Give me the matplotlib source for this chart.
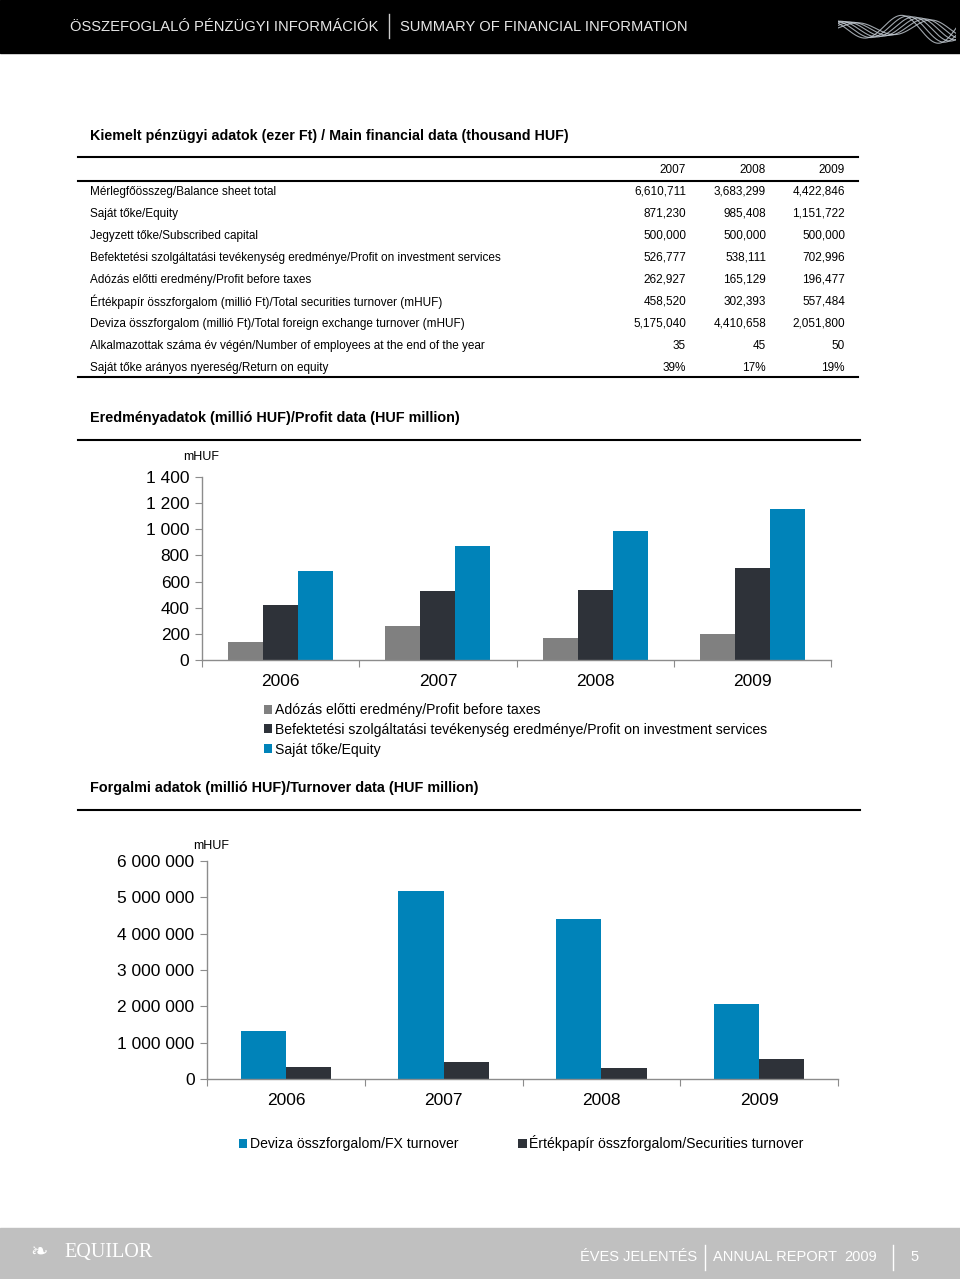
import numpy as np
import matplotlib
matplotlib.use("Agg")
import matplotlib.pyplot as plt
from matplotlib.patches import Rectangle
from matplotlib.lines import Line2D

plt.rcParams['font.family'] = ['Liberation Sans', 'DejaVu Sans']

# Table data (thousand HUF)
table_years = ["2007", "2008", "2009"]
row_labels = [
    "Mérlegfőösszeg/Balance sheet total",
    "Saját tőke/Equity",
    "Jegyzett tőke/Subscribed capital",
    "Befektetési szolgáltatási tevékenység eredménye/Profit on investment services",
    "Adózás előtti eredmény/Profit before taxes",
    "Értékpapír összforgalom (millió Ft)/Total securities turnover (mHUF)",
    "Deviza összforgalom (millió Ft)/Total foreign exchange turnover (mHUF)",
    "Alkalmazottak száma év végén/Number of employees at the end of the year",
    "Saját tőke arányos nyereség/Return on equity",
]
col_2007 = ["6,610,711", "871,230", "500,000", "526,777", "262,927", "458,520", "5,175,040", "35", "39%"]
col_2008 = ["3,683,299", "985,408", "500,000", "538,111", "165,129", "302,393", "4,410,658", "45", "17%"]
col_2009 = ["4,422,846", "1,151,722", "500,000", "702,996", "196,477", "557,484", "2,051,800", "50", "19%"]

# Profit chart (mHUF)
chart_years = ["2006", "2007", "2008", "2009"]
profit_before_tax = [140, 263, 165, 196]
profit_investment = [419, 527, 538, 703]
equity = [682, 871, 985, 1152]
profit_labels = ["Adózás előtti eredmény/Profit before taxes",
                 "Befektetési szolgáltatási tevékenység eredménye/Profit on investment services",
                 "Saját tőke/Equity"]

# Turnover chart (mHUF)
fx_turnover = [1320000, 5175040, 4410658, 2051800]
sec_turnover = [322000, 458520, 302393, 557484]
turnover_labels = ["Deviza összforgalom/FX turnover", "Értékpapír összforgalom/Securities turnover"]

GRAY = "#808080"
DARK = "#2e3239"
BLUE = "#0083b9"

W, H = 960, 1279
fig = plt.figure(figsize=(W / 100, H / 100), dpi=100)


def fx(x):
    return x / W


def fy(y):
    return 1 - y / H


def hline(y, x0, x1, lw=1.5, color="black"):
    fig.add_artist(Line2D([fx(x0), fx(x1)], [fy(y), fy(y)], lw=lw, color=color,
                          transform=fig.transFigure))


def vline(x, y0, y1, lw=1.0, color="white"):
    fig.add_artist(Line2D([fx(x), fx(x)], [fy(y0), fy(y1)], lw=lw, color=color,
                          transform=fig.transFigure))


# Header bar
fig.add_artist(Rectangle((0, fy(53)), 1, 53 / H, color="black", transform=fig.transFigure,
                         zorder=-1))
fig.text(fx(70), fy(27), "ÖSSZEFOGLALÓ PÉNZÜGYI INFORMÁCIÓK", color="#e6e6e6",
         fontsize=10.6, va="center")
vline(389, 14, 38, lw=1, color="#cccccc")
fig.text(fx(400), fy(27), "SUMMARY OF FINANCIAL INFORMATION", color="#e6e6e6",
         fontsize=10.6, va="center")

# decorative wave in header
wax = fig.add_axes([fx(838), fy(46), 118 / W, 36 / H])
wax.set_zorder(5)
wax.set_axis_off()
t = np.linspace(0, 1, 200)
for k, ph in enumerate(np.linspace(0, 2.5, 6)):
    wax.plot(t, np.sin(2 * np.pi * (1.6 * t) + ph) * (0.5 + 0.5 * t) * (0.6 + 0.1 * k),
             color="#c8d0d8", lw=0.8, alpha=0.8)
wax.set_ylim(-1.2, 1.2)
wax.set_xlim(0, 1)

# Table
fig.text(fx(90), fy(136), "Kiemelt pénzügyi adatok (ezer Ft) / Main financial data (thousand HUF)",
         fontsize=10.3, weight="bold", va="center")
hline(157, 78, 858)
hline(181, 78, 858)
hline(377, 78, 858)

col_x = [686, 766, 845]
for xx, yr in zip(col_x, table_years):
    fig.text(fx(xx), fy(170), yr, fontsize=8.5, ha="right", va="center")
for i, lab in enumerate(row_labels):
    yy = 192 + 22 * i
    fig.text(fx(90), fy(yy), lab, fontsize=8.5, va="center")
    for xx, col in zip(col_x, [col_2007, col_2008, col_2009]):
        fig.text(fx(xx), fy(yy), col[i], fontsize=8.5, ha="right", va="center")

# Section titles
fig.text(fx(90), fy(418), "Eredményadatok (millió HUF)/Profit data (HUF million)",
         fontsize=10.4, weight="bold", va="center")
hline(440, 78, 860)
fig.text(fx(90), fy(788), "Forgalmi adatok (millió HUF)/Turnover data (HUF million)",
         fontsize=10.4, weight="bold", va="center")
hline(810, 78, 860)


def style_axis(ax):
    for s in ["top", "right"]:
        ax.spines[s].set_visible(False)
    for s in ["left", "bottom"]:
        ax.spines[s].set_color("#8c8c8c")
        ax.spines[s].set_linewidth(1)
    ax.tick_params(axis="y", length=5, color="#8c8c8c", labelsize=12.5, pad=4)
    ax.tick_params(axis="x", which="major", length=5, color="#8c8c8c", labelbottom=False)
    ax.tick_params(axis="x", which="minor", length=0, labelsize=12.5, pad=10)
    ax.set_xlim(0, len(chart_years))
    ax.set_xticks(np.arange(len(chart_years) + 1))
    ax.set_xticks(np.arange(len(chart_years)) + 0.5, minor=True)
    ax.set_xticklabels(chart_years, minor=True)


def space_fmt(v):
    return f"{int(v):,}".replace(",", " ")


# Chart 1: profit data
ax1 = fig.add_axes([fx(202), fy(660), (831 - 202) / W, (660 - 477) / H])
x = np.arange(len(chart_years)) + 0.5
w1 = 35 / 157
b1 = ax1.bar(x - w1, profit_before_tax, w1, color=GRAY, label=profit_labels[0])
b2 = ax1.bar(x, profit_investment, w1, color=DARK, label=profit_labels[1])
b3 = ax1.bar(x + w1, equity, w1, color=BLUE, label=profit_labels[2])
ax1.set_ylim(0, 1400)
yt = np.arange(0, 1401, 200)
ax1.set_yticks(yt)
ax1.set_yticklabels([space_fmt(v) for v in yt])
style_axis(ax1)
fig.text(fx(183), fy(457), "mHUF", fontsize=9, va="center")
fig.legend(handles=[b1, b2, b3], loc="upper left", bbox_to_anchor=(fx(264), fy(703)),
           bbox_transform=fig.transFigure, frameon=False, fontsize=10.1,
           handlelength=0.6, handleheight=0.6, handletextpad=0.15, labelspacing=0.42,
           borderpad=0, borderaxespad=0)

# Chart 2: turnover data
ax2 = fig.add_axes([fx(207), fy(1079), (838 - 207) / W, (1079 - 861) / H])
w2 = 45 / 157
c1 = ax2.bar(x - w2 / 2, fx_turnover, w2, color=BLUE, label=turnover_labels[0])
c2 = ax2.bar(x + w2 / 2, sec_turnover, w2, color=DARK, label=turnover_labels[1])
ax2.set_ylim(0, 6000000)
yt2 = np.arange(0, 6000001, 1000000)
ax2.set_yticks(yt2)
ax2.set_yticklabels([space_fmt(v) for v in yt2])
style_axis(ax2)
fig.text(fx(193), fy(846), "mHUF", fontsize=9, va="center")
fig.legend(handles=[c1, c2], loc="upper left", bbox_to_anchor=(fx(239), fy(1135)),
           bbox_transform=fig.transFigure, frameon=False, fontsize=10.1, ncol=2,
           handlelength=0.6, handleheight=0.6, handletextpad=0.15, columnspacing=4.3,
           borderpad=0, borderaxespad=0)

# Footer
fig.add_artist(Rectangle((0, 0), 1, (H - 1228) / H, color="#c0c0c0", transform=fig.transFigure,
                         zorder=-1))
fig.text(fx(64), fy(1253), "EQUILOR", color="white", fontsize=14.5, family="Liberation Serif",
         va="center")
fig.text(fx(30), fy(1253), "❧", color="white", fontsize=15, family="DejaVu Sans", va="center")
fig.text(fx(697), fy(1257), "ÉVES JELENTÉS", color="white", fontsize=10.5, ha="right", va="center")
vline(705, 1245, 1270, lw=1)
fig.text(fx(713), fy(1257), "ANNUAL REPORT", color="white", fontsize=10.5, va="center")
fig.text(fx(877), fy(1257), "2009", color="white", fontsize=10.5, ha="right", va="center")
vline(893, 1245, 1270, lw=1)
fig.text(fx(910), fy(1257), "5", color="white", fontsize=10.5, va="center")

fig.savefig("out.png", dpi=100)
